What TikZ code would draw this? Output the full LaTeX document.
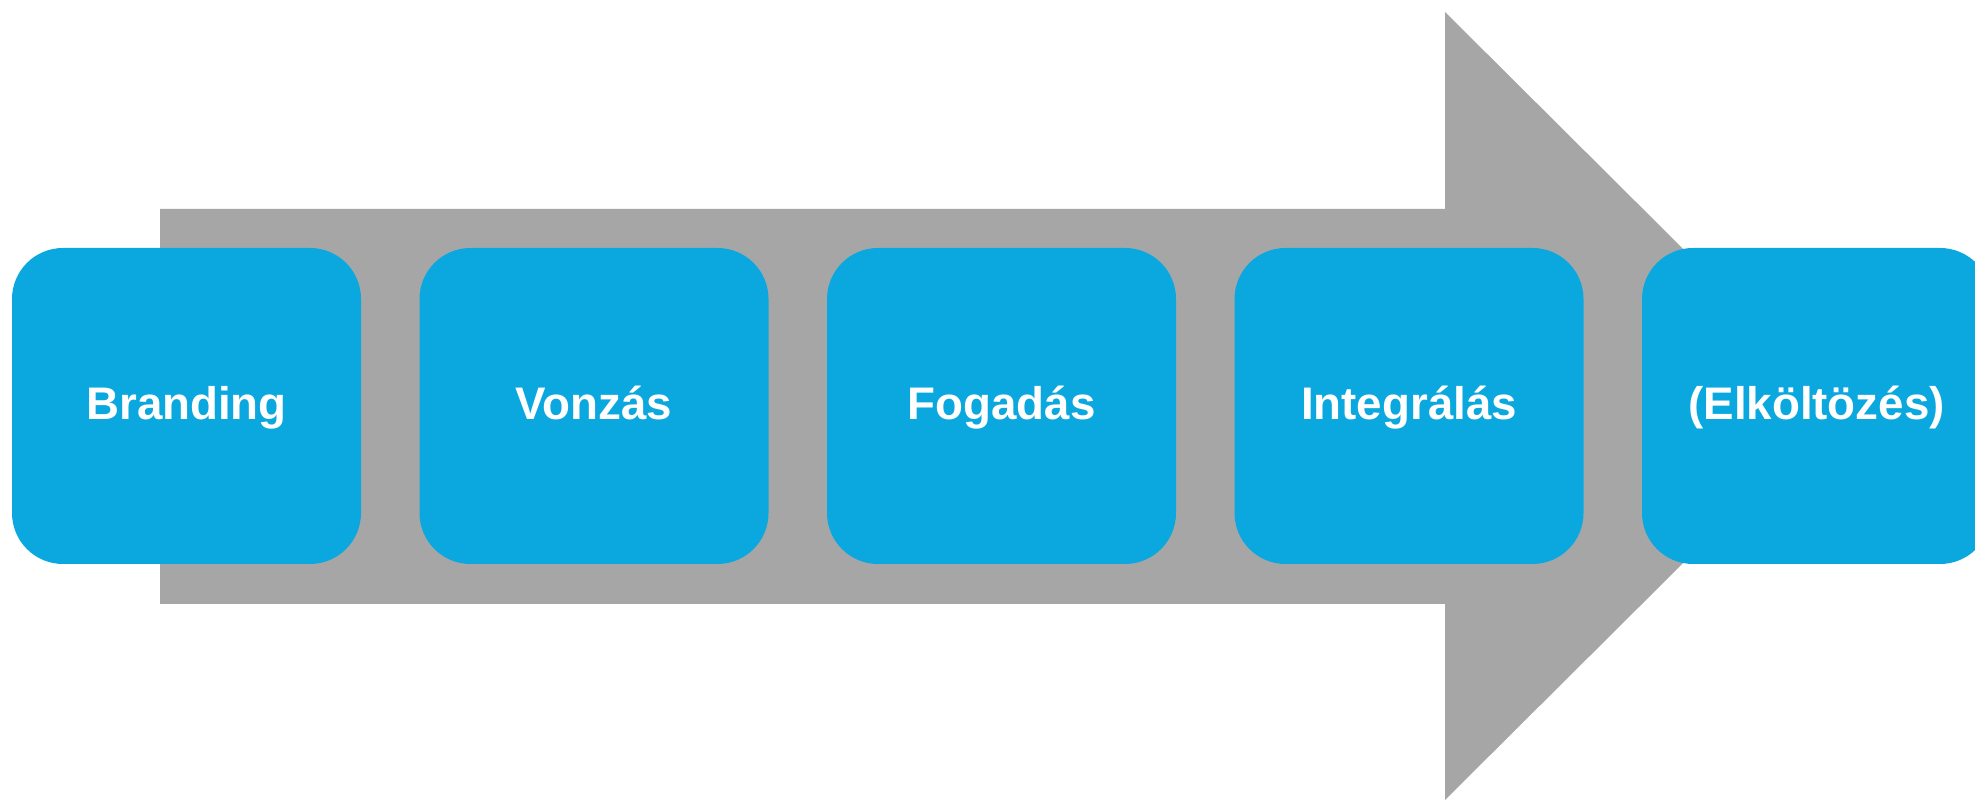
\documentclass[tikz,border=0pt]{standalone}
\usepackage{fontspec}
\setmainfont{Liberation Sans}
\usetikzlibrary{shapes.geometric, arrows}
\definecolor{stageblue}{HTML}{0BA8DF}
\definecolor{arrowgray}{HTML}{A6A6A6}
\tikzstyle{stage} = [rectangle, rounded corners=0.51cm, minimum width=3.49cm, minimum height=3.16cm, text centered, fill=stageblue, text=white, font=\fontsize{13}{16}\selectfont\bfseries, text height=0.33cm, text depth=0.05cm]
\tikzstyle{bigarrow} = [fill=arrowgray, draw=none]

\begin{document}
\begin{tikzpicture}
\clip (0,0) rectangle (19.75,8);
\useasboundingbox (0,0) rectangle (19.75,8);
% grey arrow behind the stages
\fill[bigarrow] (1.60,5.91)--(14.45,5.91)--(14.45,7.88)--(18.41,3.94)--(14.45,0)--(14.45,1.96)--(1.60,1.96)--cycle;

\foreach \n/\x/\lab in {1/1.865/Branding,2/5.94/Vonzás,3/10.015/Fogadás,4/14.09/Integrálás,5/18.165/(Elköltözés)}{
	\node[stage] (stage\n) at (\x,3.94) {\lab};
	}
\end{tikzpicture}
\end{document}
